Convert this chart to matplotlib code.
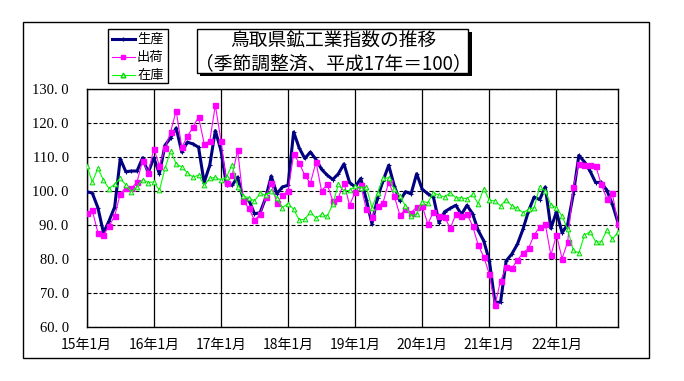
import matplotlib
matplotlib.use("Agg")
import matplotlib.pyplot as plt
from matplotlib.patches import Rectangle
from matplotlib.lines import Line2D
import numpy as np

plt.rcParams['font.family'] = ['Noto Sans CJK JP', 'DejaVu Sans']

# 月次データ 平成15年1月〜平成22年12月
seisan = [99.8, 99.4, 95.1, 87.7, 91.2, 95.3, 109.5, 105.7, 105.9, 105.9, 109.8, 105.4,
          109.8, 105.1, 113.5, 115.7, 118.6, 111.5, 114.4, 113.9, 112.9, 102.5, 107.6, 117.8,
          112.0, 101.8, 101.7, 104.1, 97.5, 97.3, 93.3, 93.6, 98.0, 104.4, 99.2, 101.2,
          101.7, 117.4, 112.7, 109.6, 111.5, 109.3, 106.4, 104.7, 103.4, 105.1, 108.0, 102.5,
          101.2, 103.7, 97.5, 90.4, 98.0, 103.1, 107.6, 101.5, 97.1, 99.8, 99.2, 105.1,
          100.5, 99.2, 98.2, 90.7, 93.9, 94.9, 95.8, 93.1, 95.8, 93.3, 88.4, 85.3,
          79.4, 67.2, 67.2, 79.4, 81.4, 84.3, 88.7, 94.1, 98.2, 97.5, 101.2, 89.0,
          93.9, 87.7, 90.2, 99.0, 110.5, 108.6, 105.9, 102.5, 102.6, 100.2, 96.1, 90.7]
shukka = [93.4, 94.3, 87.7, 87.0, 89.7, 92.6, 99.2, 101.0, 100.8, 102.7, 109.0, 105.4,
          112.5, 107.5, 112.7, 117.4, 123.7, 112.9, 116.1, 118.8, 121.9, 114.0, 114.7, 125.3,
          114.9, 102.5, 104.6, 112.0, 97.1, 94.9, 91.4, 93.1, 98.3, 102.3, 96.4, 98.7,
          100.0, 110.8, 108.3, 104.6, 102.3, 108.6, 100.0, 102.0, 97.1, 98.0, 102.5, 95.8,
          99.7, 101.7, 94.6, 92.4, 95.6, 96.6, 102.7, 98.5, 92.9, 94.6, 93.6, 95.3,
          95.6, 90.2, 93.9, 92.6, 92.4, 89.0, 93.1, 92.6, 93.3, 89.7, 84.1, 80.6,
          75.5, 66.4, 73.5, 77.5, 77.2, 79.6, 81.7, 83.1, 87.0, 89.4, 90.2, 81.1,
          87.0, 80.1, 85.0, 101.3, 108.0, 107.8, 107.8, 107.5, 102.0, 97.8, 99.3, 90.2]
zaiko = [107.5, 102.7, 106.7, 103.2, 100.7, 102.0, 103.7, 101.8, 99.8, 101.3, 103.4, 102.5,
         102.7, 100.2, 106.7, 111.8, 108.0, 107.1, 105.4, 104.1, 104.7, 101.8, 103.7, 104.1,
         103.2, 104.1, 107.8, 101.2, 98.5, 98.0, 97.1, 99.3, 98.8, 100.0, 98.0, 95.1,
         96.3, 94.6, 91.5, 91.7, 93.8, 92.0, 93.1, 92.6, 96.1, 102.0, 100.0, 100.2,
         101.4, 101.0, 101.2, 95.1, 99.5, 103.7, 103.9, 100.5, 98.5, 95.6, 92.6, 93.3,
         96.9, 96.6, 99.5, 98.8, 98.2, 99.5, 98.0, 98.0, 97.7, 99.0, 96.3, 100.7,
         97.3, 97.1, 95.6, 97.5, 95.6, 94.9, 93.6, 94.6, 95.1, 101.2, 100.0, 95.9,
         95.1, 92.6, 88.7, 82.5, 81.7, 87.0, 88.0, 85.1, 85.0, 88.5, 85.8, 87.9]
x_labels = ['15年1月', '16年1月', '17年1月', '18年1月', '19年1月', '20年1月', '21年1月', '22年1月']

W, H = 684, 381
fig = plt.figure(figsize=(W / 100, H / 100), dpi=100)

def fx(px):
    return px / W

def fy(py):
    return 1 - py / H

# 外枠
fig.patches.append(Rectangle((fx(23), fy(358)), fx(649) - fx(23), fy(22) - fy(358),
                             transform=fig.transFigure, fill=False, ec='black', lw=1.0))

ax = fig.add_axes([fx(86.7), fy(326.7), fx(618) - fx(86.7), fy(89.3) - fy(326.7)])
months = np.arange(len(seisan))

ax.plot(months, seisan, color='#000080', lw=2.2, marker='+', ms=3, mew=0.8, zorder=3)
ax.plot(months, shukka, color='#ff00ff', lw=0.8, marker='s', ms=3.6, mec='#ff00ff', zorder=4)
ax.plot(months, zaiko, color='#00ff00', lw=0.8, marker='^', ms=3.4, mfc='#ccffcc',
        mec='#00dd00', mew=0.7, zorder=5)

ax.set_xlim(0, len(seisan) - 1)
ax.set_ylim(60, 130)
ax.set_xticks(np.arange(0, len(seisan), 12)[:len(x_labels)])
ax.set_xticklabels(x_labels, fontsize=10)
yt = np.arange(60, 131, 10)
ax.set_yticks(yt)
ax.set_yticklabels(['%d. %d' % (v, 0) for v in yt], family='Liberation Serif', fontsize=10.5)
ax.tick_params(axis='both', length=0)
ax.tick_params(axis='y', pad=13)
ax.tick_params(axis='x', pad=8)
ax.grid(axis='y', color='black', lw=0.8, linestyle=(0, (3.6, 1.8)))
ax.grid(axis='x', color='black', lw=0.9, linestyle='-')
ax.set_axisbelow(True)
for s in ax.spines.values():
    s.set_linewidth(1.0)

# 凡例
fig.patches.append(Rectangle((fx(108.3), fy(83.3)), fx(168.3) - fx(108.3), fy(29.3) - fy(83.3),
                             transform=fig.transFigure, fill=True, fc='white', ec='black', lw=1.0))
leg = [('生産', '#000080', 2.2, '+', '#000080', '#000080'),
       ('出荷', '#ff00ff', 0.8, 's', '#ff00ff', '#ff00ff'),
       ('在庫', '#00ff00', 0.8, '^', '#ccffcc', '#00dd00')]
for k, (name, c, lw, m, mfc, mec) in enumerate(leg):
    yy = fy(39.3 + 18 * k)
    fig.add_artist(Line2D([fx(111.7), fx(135)], [yy, yy], transform=fig.transFigure,
                          color=c, lw=lw))
    fig.add_artist(Line2D([(fx(111.7) + fx(135)) / 2], [yy], transform=fig.transFigure,
                          color=c, marker=m, ms=3.4, mfc=mfc, mec=mec, lw=0))
    fig.text(fx(137), yy, name, fontsize=9.5, va='center', ha='left')

# タイトル
fig.patches.append(Rectangle((fx(200), fy(76)), fx(471.5) - fx(200), fy(32) - fy(76),
                             transform=fig.transFigure, fc='black', ec='black', lw=0))
fig.patches.append(Rectangle((fx(197.3), fy(73.3)), fx(468) - fx(197.3), fy(29.3) - fy(73.3),
                             transform=fig.transFigure, fc='white', ec='black', lw=1.0))
fig.text(fx(333), fy(40.7), '鳥取県鉱工業指数の推移', fontsize=13.5, ha='center', va='center')
fig.text(fx(333), fy(63.3), '（季節調整済、平成17年＝100）', fontsize=13.5, ha='center', va='center')

fig.savefig('out.png', dpi=100)
